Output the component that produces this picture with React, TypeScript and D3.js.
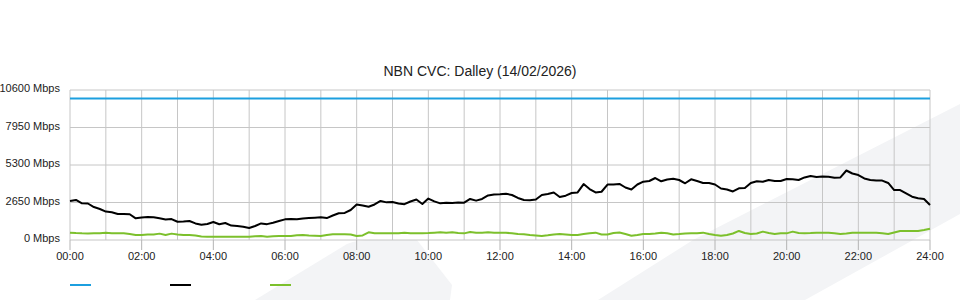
import React from "react";
import * as d3 from "d3";

const title = "NBN CVC: Dalley (14/02/2026)";
const yTicks = [0, 2650, 5300, 7950, 10600];
const xTickHours = [0, 2, 4, 6, 8, 10, 12, 14, 16, 18, 20, 22, 24];
const stepMinutes = 10;
const capacityMbps = [10000, 10000];

// black: total traffic (Mbps), every 10 minutes from 00:00 to 24:00
const trafficMbps = [
  2760, 2830, 2590, 2580, 2330, 2190, 2010, 1960, 1840, 1840, 1820, 1530,
  1590, 1630, 1600, 1530, 1450, 1480, 1290, 1310, 1340, 1170, 1080, 1130,
  1270, 1110, 1200, 1020, 990, 940, 850, 990, 1170, 1120, 1220, 1340,
  1460, 1480, 1460, 1520, 1550, 1580, 1600, 1550, 1730, 1890, 1910, 2120,
  2510, 2440, 2350, 2510, 2760, 2660, 2690, 2580, 2530, 2720, 2860, 2540,
  2930, 2730, 2590, 2640, 2610, 2650, 2640, 2900, 2780, 2900, 3150, 3220,
  3230, 3270, 3180, 2970, 2830, 2810, 2860, 3180, 3250, 3360, 3040, 3130,
  3320, 3360, 3950, 3600, 3360, 3410, 3920, 3920, 3960, 3710, 3570, 3920,
  4120, 4170, 4380, 4150, 4280, 4330, 4240, 4010, 4290, 4170, 4030, 4030,
  3920, 3640, 3570, 3430, 3650, 3670, 4030, 4150, 4120, 4240, 4170, 4170,
  4310, 4290, 4240, 4420, 4520, 4450, 4490, 4470, 4400, 4420, 4910, 4700,
  4590, 4350, 4240, 4200, 4200, 4030, 3530, 3530, 3290, 3060, 2950, 2900,
  2470,
];

// green: secondary traffic (Mbps), every 10 minutes
const secondaryMbps = [
  520, 490, 470, 460, 470, 470, 520, 470, 470, 470, 420, 350,
  350, 390, 390, 450, 350, 450, 390, 350, 350, 320, 250, 230,
  230, 230, 230, 230, 230, 230, 230, 260, 280, 230, 260, 280,
  280, 280, 330, 350, 320, 300, 280, 350, 400, 400, 400, 390,
  280, 320, 540, 470, 470, 470, 470, 470, 520, 470, 470, 470,
  490, 520, 540, 520, 540, 490, 470, 570, 520, 520, 540, 520,
  520, 520, 470, 420, 400, 350, 320, 280, 330, 390, 420, 390,
  350, 350, 420, 470, 520, 390, 390, 490, 530, 420, 300, 350,
  420, 420, 460, 520, 470, 390, 420, 460, 470, 470, 520, 420,
  350, 300, 350, 460, 640, 490, 420, 460, 590, 490, 420, 470,
  470, 590, 490, 470, 490, 520, 520, 520, 470, 420, 460, 520,
  520, 520, 520, 520, 470, 420, 530, 640, 640, 640, 640, 710,
  800,
];

const W = 960;
const H = 300;
const plot = { left: 70, right: 930, top: 90, bottom: 240 };

const BLUE = "#1c9fdf";
const BLACK = "#000000";
const GREEN = "#7cc02c";

export default function App() {
  const x = d3.scaleLinear().domain([0, 24 * 60]).range([plot.left, plot.right]);
  const y = d3.scaleLinear().domain([0, 10600]).range([plot.bottom, plot.top]);
  const hourGrid = d3.range(0, 25);

  const seriesLine = d3
    .line<number>()
    .x((_, i) => x(i * stepMinutes))
    .y((v) => y(v));
  const capLine = d3
    .line<number>()
    .x((_, i) => x((i * 24 * 60) / (capacityMbps.length - 1)))
    .y((v) => y(v));

  const font = "'Liberation Sans', Arial, sans-serif";

  return (
    <svg
      width={W}
      height={H}
      style={{ position: "absolute", left: 0, top: 0, background: "#fff" }}
      fontFamily={font}
    >
      {/* watermark */}
      <path
        d="M255,300 L347,244 Q360,239 380,240 L417,240 L452,285 L450,300 Z"
        fill="#f3f4f6"
      />
      <path
        d="M598,300 L693,240 L960,104 L960,214 L805,300 Z"
        fill="#f3f4f6"
      />

      <text x={480} y={76} textAnchor="middle" fontSize={14} fill="#222">
        {title}
      </text>

      {/* vertical grid */}
      {hourGrid.map((h) => (
        <line
          key={"v" + h}
          x1={x(h * 60)}
          x2={x(h * 60)}
          y1={plot.top}
          y2={plot.bottom}
          stroke="#c6c6c6"
          strokeWidth={1}
        />
      ))}
      {/* horizontal grid */}
      {yTicks.map((t) => (
        <line
          key={"h" + t}
          x1={plot.left}
          x2={plot.right}
          y1={y(t)}
          y2={y(t)}
          stroke="#c6c6c6"
          strokeWidth={1}
        />
      ))}
      {/* y labels */}
      {yTicks.map((t) => (
        <text
          key={"yl" + t}
          x={60}
          y={y(t) + 2}
          textAnchor="end"
          fontSize={11}
          fill="#222"
        >
          {t} Mbps
        </text>
      ))}
      {/* x ticks */}
      {xTickHours.map((h) => (
        <g key={"xt" + h}>
          <line
            x1={x(h * 60)}
            x2={x(h * 60)}
            y1={plot.bottom}
            y2={plot.bottom + 10}
            stroke="#b4b4b4"
          />
          <text
            x={x(h * 60)}
            y={260}
            textAnchor="middle"
            fontSize={11}
            fill="#222"
          >
            {String(h).padStart(2, "0")}:00
          </text>
        </g>
      ))}

      {/* series */}
      <path d={capLine(capacityMbps) || ""} fill="none" stroke={BLUE} strokeWidth={2} />
      <path
        d={seriesLine(secondaryMbps) || ""}
        fill="none"
        stroke={GREEN}
        strokeWidth={2}
        strokeLinejoin="round"
      />
      <path
        d={seriesLine(trafficMbps) || ""}
        fill="none"
        stroke={BLACK}
        strokeWidth={2}
        strokeLinejoin="round"
      />

      {/* legend */}
      {[BLUE, BLACK, GREEN].map((c, i) => (
        <line
          key={"lg" + i}
          x1={70 + i * 100}
          x2={91 + i * 100}
          y1={285}
          y2={285}
          stroke={c}
          strokeWidth={2}
        />
      ))}
    </svg>
  );
}
